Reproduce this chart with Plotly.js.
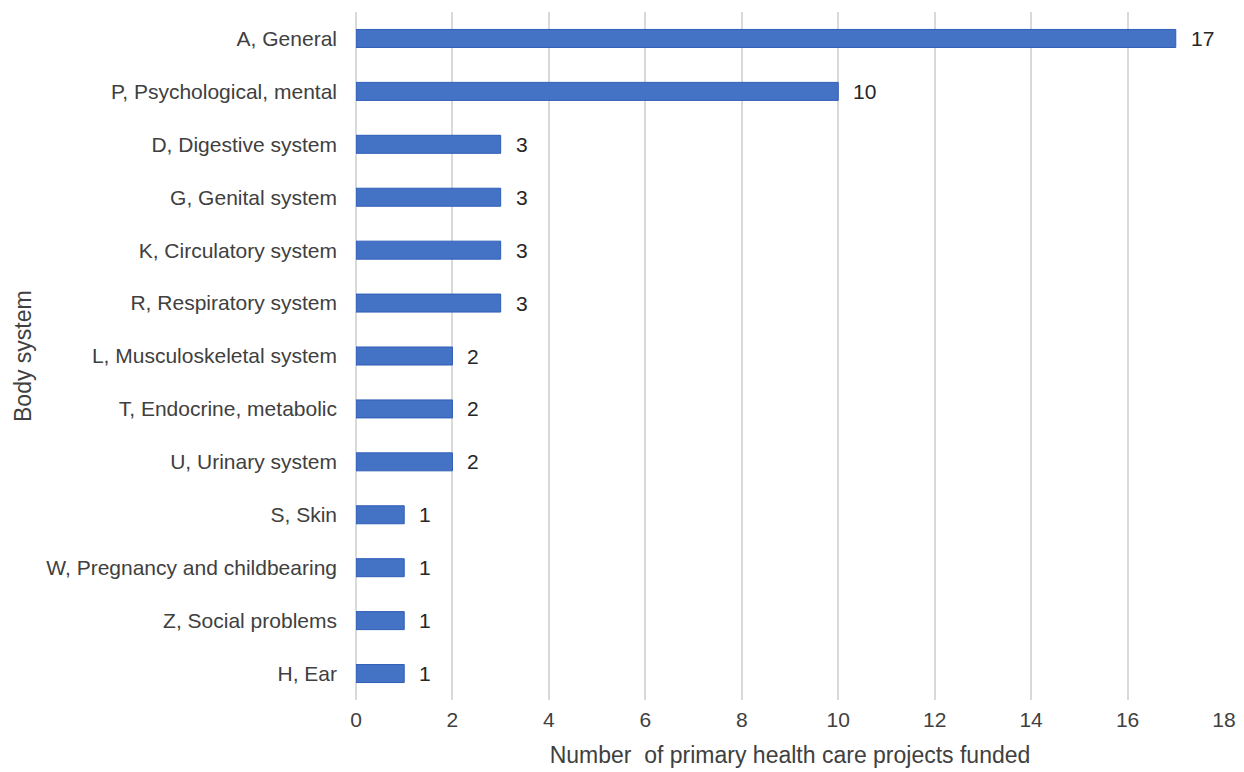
<!DOCTYPE html>
<html>
<head>
<meta charset="utf-8">
<script src="https://cdn.plot.ly/plotly-3.0.1.min.js"></script>
<style>html,body{margin:0;padding:0;background:#fff;}#chart{width:1244px;height:772px;}</style>
</head>
<body>
<div id="chart"></div>
<script>
const categories = ["A, General","P, Psychological, mental","D, Digestive system","G, Genital system","K, Circulatory system","R, Respiratory system","L, Musculoskeletal system","T, Endocrine, metabolic","U, Urinary system","S, Skin","W, Pregnancy and childbearing","Z, Social problems","H, Ear"];
const values = [17,10,3,3,3,3,2,2,2,1,1,1,1];
const xTickValues = [0,2,4,6,8,10,12,14,16,18];
const xTitle = 'Number\u00a0 of primary health care projects funded';
const yTitle = 'Body system';

const FONT = 'Liberation Sans, Arial, sans-serif';
const TXT = '#404040';

const trace = {
  type: 'bar',
  orientation: 'h',
  y: categories,
  x: values,
  marker: {color: '#4472C4', line: {color: '#2F5DB8', width: 1}},
  hoverinfo: 'none'
};

const valueLabels = categories.map((c, i) => ({
  x: values[i], y: c, xref: 'x', yref: 'y',
  text: String(values[i]), showarrow: false,
  xanchor: 'left', yanchor: 'middle', xshift: 13,
  font: {family: FONT, size: 21, color: '#262626'}
}));

const layout = {
  width: 1244, height: 772,
  margin: {l: 356, r: 20, t: 12, b: 72},
  paper_bgcolor: '#fff', plot_bgcolor: '#fff',
  bargap: 0.66,
  showlegend: false,
  font: {family: FONT, size: 21, color: TXT},
  xaxis: {
    range: [0, 18],
    tickvals: xTickValues,
    ticktext: xTickValues.map(String),
    showgrid: true, gridcolor: '#D9D9D9', gridwidth: 2,
    zeroline: true, zerolinecolor: '#D9D9D9', zerolinewidth: 2,
    showline: false, ticks: '',
    ticklabelstandoff: 5,
    tickfont: {size: 21, color: TXT},
    title: {text: xTitle, font: {size: 23, color: TXT}, standoff: 16},
    fixedrange: true
  },
  yaxis: {
    type: 'category',
    categoryorder: 'array', categoryarray: categories,
    autorange: 'reversed',
    showgrid: false, zeroline: false, showline: false, ticks: '',
    ticklabelstandoff: 18,
    tickfont: {size: 21, color: TXT},
    fixedrange: true
  },
  annotations: valueLabels.concat([{
    xref: 'paper', yref: 'paper',
    x: -(356 - 23) / 868, y: 0.5,
    xanchor: 'center', yanchor: 'middle',
    text: yTitle, textangle: -90, showarrow: false,
    font: {family: FONT, size: 23, color: TXT}
  }])
};

Plotly.newPlot('chart', [trace], layout, {displayModeBar: false, staticPlot: true});
</script>
</body>
</html>
